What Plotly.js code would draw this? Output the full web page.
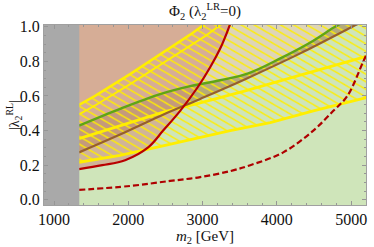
<!DOCTYPE html>
<html>
<head>
<meta charset="utf-8">
<script src="https://cdn.plot.ly/plotly-3.0.1.min.js"></script>
<style>
html,body{margin:0;padding:0;background:#fff;}
#chart{width:374px;height:247px;}
</style>
</head>
<body>
<div id="chart"></div>
<script>
// ---- axis ranges & excluded band ----
const xMin = 865, xMax = 5200, yMin = -0.03, yMax = 1.01;
const excludedMax = 1340;           // grey excluded region (m2 < 1340 GeV)

// ---- curves (m2 [GeV], |lambda2^RL|) ----
const redSolidM = [1337, 1650, 1957, 2267, 2469, 2698, 2927, 3102, 3237, 3332, 3372];
const redSolidL = [0.177, 0.200, 0.229, 0.303, 0.400, 0.514, 0.646, 0.766, 0.874, 0.971, 1.017];

const redDashM = [1337, 2024, 2563, 2968, 3372, 3642, 4086, 4491, 4760, 4949, 5164, 5250];
const redDashL = [0.057, 0.080, 0.109, 0.131, 0.166, 0.200, 0.274, 0.400, 0.514, 0.600, 0.800, 0.880];

const greenM = [1337, 1889, 2429, 2833, 3237, 3615, 4046, 4450, 4760, 4854];
const greenL = [0.429, 0.526, 0.611, 0.657, 0.691, 0.731, 0.817, 0.909, 0.994, 1.017];

const brownM = [1337, 1889, 2496, 2968, 3574, 4315, 5016, 5124];
const brownL = [0.274, 0.377, 0.497, 0.583, 0.697, 0.846, 1.000, 1.023];

// yellow boundaries
const yUpM  = [1337, 1553, 2024, 2496, 2833, 2981, 3170];
const yUpL  = [0.549, 0.600, 0.726, 0.857, 0.954, 1.000, 1.057];
const yUp2M = [1337, 1553, 2024, 2496, 2833, 3050, 3300];
const yUp2L = [0.494, 0.545, 0.668, 0.797, 0.890, 0.950, 1.030];
const yMidM = [1337, 1889, 2496, 2968, 3574, 4315, 5191, 5300];
const yMidL = [0.354, 0.429, 0.509, 0.560, 0.629, 0.720, 0.829, 0.840];
const yLowM = [1337, 1889, 2496, 3372, 3911, 4491, 5191, 5300];
const yLowL = [0.217, 0.257, 0.314, 0.400, 0.446, 0.514, 0.589, 0.597];

// tick labels
const xTickVals = [1000, 2000, 3000, 4000, 5000];
const xTickText = ['1000', '2000', '3000', '4000', '5000'];
const yTickVals = [0, 0.2, 0.4, 0.6, 0.8, 1.0];
const yTickText = ['0.0', '0.2', '0.4', '0.6', '0.8', '1.0'];

// ---- colours ----
const cBg = 'rgb(207,229,186)';
const cGrey = 'rgb(169,169,169)';
const cYellow = 'rgb(255,238,0)';
const serif = 'Liberation Serif, DejaVu Serif, serif';

const yTop = yMax + 0.06, xRight = xMax + 150, xLeft = xMin - 50;

const traces = [];
// light pink region above green line
traces.push({x: [...greenM, xRight, xRight, xLeft, xLeft], y: [...greenL, greenL[greenL.length-1], yTop, yTop, greenL[0]],
  fill: 'toself', mode: 'none', fillcolor: 'rgba(245,190,180,0.40)', hoverinfo: 'skip'});
// band between green and brown
traces.push({x: [...greenM, xRight, xRight, ...brownM.slice().reverse()], y: [...greenL, yTop, yTop, ...brownL.slice().reverse()],
  fill: 'toself', mode: 'none', fillcolor: 'rgba(145,95,40,0.44)', hoverinfo: 'skip'});
// salmon region above red solid curve
traces.push({x: [...redSolidM, xLeft, xLeft], y: [...redSolidL, yTop, redSolidL[0]],
  fill: 'toself', mode: 'none', fillcolor: 'rgba(208,140,125,0.56)', hoverinfo: 'skip'});
// hatched yellow region
traces.push({x: [...yLowM, xRight, xRight, ...yUpM.slice().reverse()], y: [...yLowL, yLowL[yLowL.length-1], yTop, ...yUpL.slice().reverse()],
  fill: 'toself', mode: 'none', fillcolor: 'rgba(0,0,0,0)',
  fillpattern: {shape: '\\', fgcolor: cYellow, bgcolor: 'rgba(0,0,0,0)', size: 6.6, solidity: 0.2},
  hoverinfo: 'skip'});
// yellow lines
[[yUpM, yUpL, 2.6], [yUp2M, yUp2L, 2.0], [yMidM, yMidL, 2.8], [yLowM, yLowL, 2.8]].forEach(([mx, ly, w]) => {
  traces.push({x: mx, y: ly, mode: 'lines', line: {color: cYellow, width: w}, hoverinfo: 'skip'});
});
// brown & green lines
traces.push({x: brownM, y: brownL, mode: 'lines', line: {color: 'rgb(150,95,45)', width: 2.2, shape: 'spline'}, hoverinfo: 'skip'});
traces.push({x: greenM, y: greenL, mode: 'lines', line: {color: 'rgb(95,165,20)', width: 2.4, shape: 'spline'}, hoverinfo: 'skip'});
// red curves
traces.push({x: redSolidM, y: redSolidL, mode: 'lines', line: {color: 'rgb(185,0,0)', width: 2.2, shape: 'spline'}, hoverinfo: 'skip'});
traces.push({x: redDashM, y: redDashL, mode: 'lines', line: {color: 'rgb(175,0,0)', width: 2.2, dash: '6px,3px', shape: 'spline'}, hoverinfo: 'skip'});
// grey excluded region
traces.push({x: [xLeft, excludedMax, excludedMax, xLeft], y: [yMin - 0.1, yMin - 0.1, yTop, yTop],
  fill: 'toself', mode: 'none', fillcolor: cGrey, hoverinfo: 'skip'});

const axisCommon = {
  showgrid: false, zeroline: false, showline: true, linecolor: 'rgb(160,160,160)', linewidth: 1,
  mirror: 'ticks', ticks: 'inside', ticklen: 4, tickcolor: 'rgb(150,150,150)', tickwidth: 1,
  tickfont: {family: serif, size: 16, color: '#111'},
};

const layout = {
  width: 374, height: 247,
  margin: {l: 44, r: 8, t: 25, b: 42},
  paper_bgcolor: '#fff', plot_bgcolor: cBg,
  showlegend: false,
  title: {text: 'Φ<sub>2</sub> (λ<sub>2</sub><sup>LR</sup>=0)', font: {family: serif, size: 15, color: '#111'},
    x: 0.548, xanchor: 'center', y: 0.955, yanchor: 'middle'},
  xaxis: Object.assign({}, axisCommon, {
    range: [xMin, xMax], tickvals: xTickVals, ticktext: xTickText,
    minor: {dtick: 200, tick0: 0, ticks: 'inside', ticklen: 2, tickcolor: 'rgb(150,150,150)'},
    title: {text: '<i>m</i><sub>2</sub> [GeV]', font: {family: serif, size: 15, color: '#111'}, standoff: 3},
  }),
  yaxis: Object.assign({}, axisCommon, {
    range: [yMin, yMax], tickvals: yTickVals, ticktext: yTickText,
    minor: {dtick: 0.05, tick0: 0, ticks: 'inside', ticklen: 2, tickcolor: 'rgb(150,150,150)'},
  }),
  annotations: [{
    text: '|λ<sub>2</sub><sup>RL</sup>|', textangle: -90, showarrow: false,
    xref: 'paper', yref: 'paper', x: -30 / 322, y: 0.5, xanchor: 'center', yanchor: 'middle',
    font: {family: serif, size: 14, color: '#111'}
  }],
};

// hatch styling: thin lines, ~30 degrees, ~6.6 px apart
function styleHatch() {
  const W = 9.3, LW = 1.4;
  document.querySelectorAll('pattern').forEach(p => {
    p.setAttribute('width', W);
    p.setAttribute('height', W);
    p.setAttribute('patternTransform', 'rotate(-15)');
    p.querySelectorAll('rect').forEach(r => { r.setAttribute('width', W); r.setAttribute('height', W); });
    p.querySelectorAll('path').forEach(path => {
      path.setAttribute('d', `M${-W/4},${3*W/4}l${W/2},${W/2}M0,0L${W},${W}M${3*W/4},${-W/4}l${W/2},${W/2}`);
      path.setAttribute('stroke-width', LW);
      path.style.strokeWidth = LW + 'px';
    });
  });
}

Plotly.newPlot('chart', traces, layout, {staticPlot: true, displayModeBar: false}).then(styleHatch);
</script>
</body>
</html>
